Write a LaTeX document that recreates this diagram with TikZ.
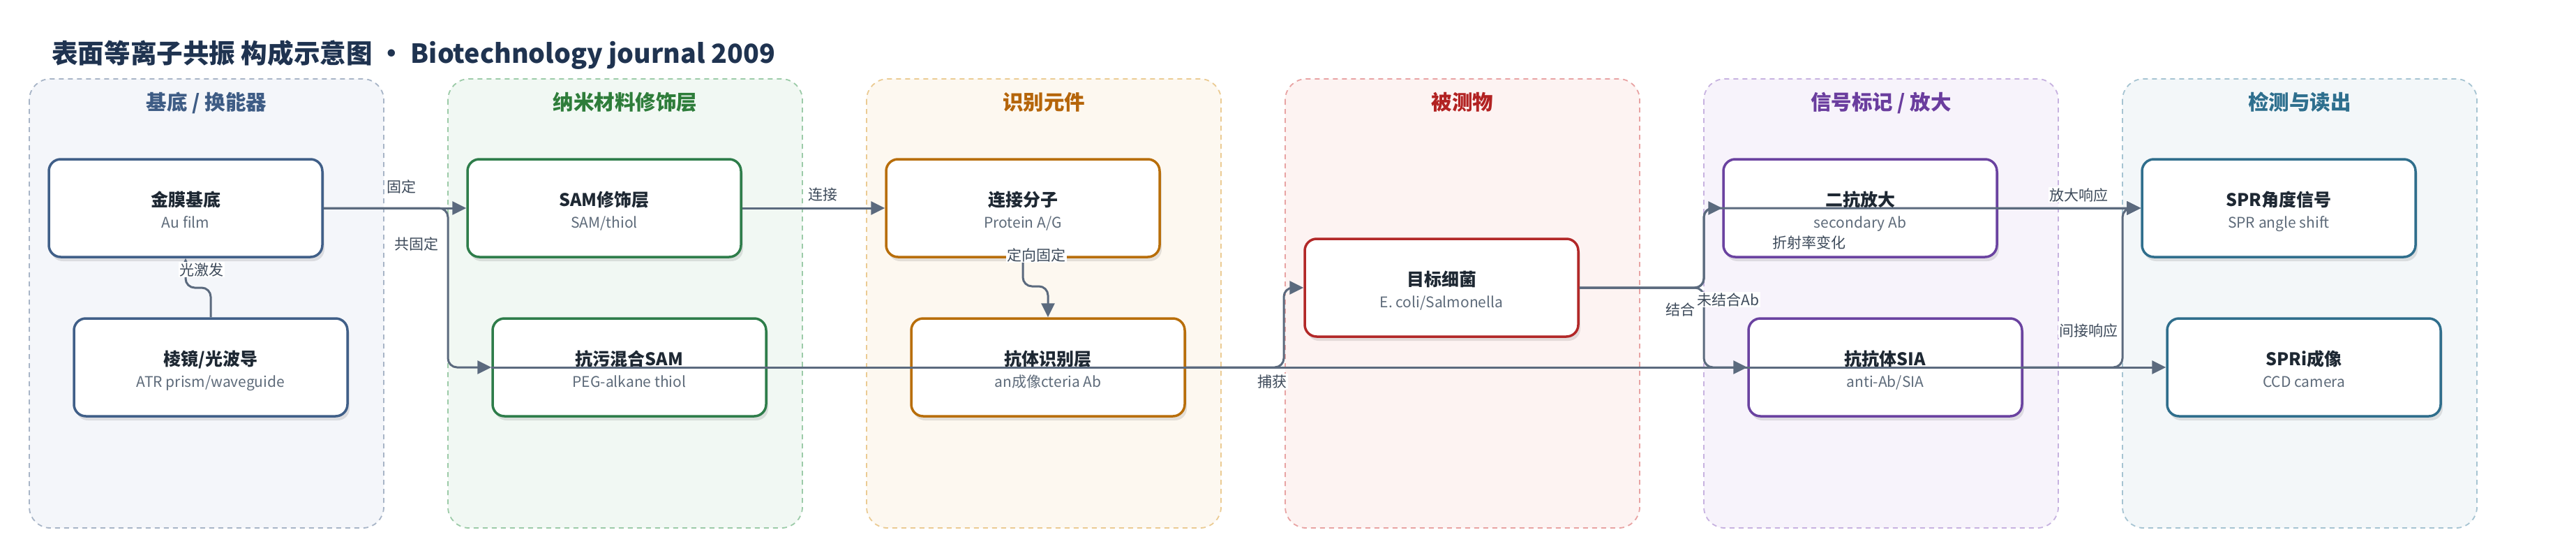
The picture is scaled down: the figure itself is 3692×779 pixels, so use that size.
\documentclass[tikz,border=0pt]{standalone}
\usepackage{fontspec}
\setmainfont{Noto Sans CJK SC}
\usetikzlibrary{arrows.meta,shadows}
\definecolor{titlec}{HTML}{1F3350}
\definecolor{edgec}{HTML}{5B6A7E}
\definecolor{lblc}{HTML}{3D4A5A}
\definecolor{ntc}{HTML}{1E2833}
\definecolor{nsc}{HTML}{5E6B7A}
\definecolor{pAb}{HTML}{405F88}\definecolor{pAt}{HTML}{3E5C85}\definecolor{pAf}{HTML}{F4F6FA}\definecolor{pAd}{HTML}{A8B5C7}
\definecolor{pBb}{HTML}{2E7D4A}\definecolor{pBt}{HTML}{2E7D3A}\definecolor{pBf}{HTML}{F1F8F3}\definecolor{pBd}{HTML}{9CCBA8}
\definecolor{pCb}{HTML}{B86E0A}\definecolor{pCt}{HTML}{B5650A}\definecolor{pCf}{HTML}{FDF8F0}\definecolor{pCd}{HTML}{EBCB93}
\definecolor{pDb}{HTML}{B22828}\definecolor{pDt}{HTML}{B22222}\definecolor{pDf}{HTML}{FDF3F2}\definecolor{pDd}{HTML}{E8A3A3}
\definecolor{pEb}{HTML}{6A42A0}\definecolor{pEt}{HTML}{6A3D9E}\definecolor{pEf}{HTML}{F7F3FB}\definecolor{pEd}{HTML}{C7B2E0}
\definecolor{pFb}{HTML}{2F6E8C}\definecolor{pFt}{HTML}{2E6F8E}\definecolor{pFf}{HTML}{F3F7F9}\definecolor{pFd}{HTML}{A6C4D2}
\tikzset{
  panelbox/.style={rounded corners=30pt, line width=1.8pt, dash pattern=on 7pt off 6pt},
  ptitle/.style={anchor=base, inner sep=0pt, font=\fontsize{29.5pt}{34pt}\selectfont\bfseries},
  nodebox/.style={draw, fill=white, rounded corners=17pt, line width=3.5pt,
    minimum width=392pt, minimum height=140pt, inner sep=0pt,
    drop shadow={shadow xshift=3pt, shadow yshift=-6pt, fill=black, opacity=0.10}},
  ntitle/.style={anchor=base, inner sep=0pt, text=ntc, font=\fontsize{25pt}{30pt}\selectfont\bfseries},
  nsub/.style={anchor=base, inner sep=0pt, text=nsc, font=\fontsize{21pt}{25pt}\selectfont},
  edgeline/.style={draw=edgec, line width=3pt, rounded corners=13pt,
    -{Triangle[length=20pt,width=19pt]}},
  elabel/.style={anchor=base, fill=white, inner sep=1.5pt, text=lblc, font=\fontsize{21pt}{25pt}\selectfont},
}
\begin{document}
\begin{tikzpicture}[x=1pt,y=-1pt]
\useasboundingbox (0,0) rectangle (3692,779);
\fill[white] (0,0) rectangle (3692,779);

% title
\node[anchor=base west, inner sep=0pt, text=titlec, font=\fontsize{37.6pt}{44pt}\selectfont\bfseries] (title) at (74,90)
  {表面等离子共振 构成示意图 · Biotechnology journal 2009};

% panels
\draw[panelbox, draw=pAd, fill=pAf] (42,113) rectangle (550,756);
\draw[panelbox, draw=pBd, fill=pBf] (642,113) rectangle (1150,756);
\draw[panelbox, draw=pCd, fill=pCf] (1242,113) rectangle (1750,756);
\draw[panelbox, draw=pDd, fill=pDf] (1842,113) rectangle (2350,756);
\draw[panelbox, draw=pEd, fill=pEf] (2442,113) rectangle (2950,756);
\draw[panelbox, draw=pFd, fill=pFf] (3042,113) rectangle (3550,756);
\node[ptitle, text=pAt] (pa) at (296,157) {基底 / 换能器};
\node[ptitle, text=pBt] (pb) at (896,157) {纳米材料修饰层};
\node[ptitle, text=pCt] (pc) at (1496,157) {识别元件};
\node[ptitle, text=pDt] (pd) at (2096,157) {被测物};
\node[ptitle, text=pEt] (pe) at (2696,157) {信号标记 / 放大};
\node[ptitle, text=pFt] (pf) at (3296,157) {检测与读出};

% nodes
\node[nodebox, draw=pAb] (au) at (266,298) {};
\node[nodebox, draw=pAb] (prism) at (302,526) {};
\node[nodebox, draw=pBb] (sam) at (866,298) {};
\node[nodebox, draw=pBb] (af) at (902,526) {};
\node[nodebox, draw=pCb] (link) at (1466,298) {};
\node[nodebox, draw=pCb] (ab) at (1502,526) {};
\node[nodebox, draw=pDb] (tgt) at (2066,412) {};
\node[nodebox, draw=pEb] (sec) at (2666,298) {};
\node[nodebox, draw=pEb] (sia) at (2702,526) {};
\node[nodebox, draw=pFb] (spr) at (3266,298) {};
\node[nodebox, draw=pFb] (spri) at (3302,526) {};

\node[ntitle] (au-t) at (266,295) {金膜基底};
\node[nsub] (au-s) at (266,326) {Au film};
\node[ntitle] (prism-t) at (302,523) {棱镜/光波导};
\node[nsub] (prism-s) at (302,554) {ATR prism/waveguide};
\node[ntitle] (sam-t) at (866,295) {SAM修饰层};
\node[nsub] (sam-s) at (866,326) {SAM/thiol};
\node[ntitle] (af-t) at (902,523) {抗污混合SAM};
\node[nsub] (af-s) at (902,554) {PEG-alkane thiol};
\node[ntitle] (link-t) at (1466,295) {连接分子};
\node[nsub] (link-s) at (1466,326) {Protein A/G};
\node[ntitle] (ab-t) at (1502,523) {抗体识别层};
\node[nsub] (ab-s) at (1502,554) {an成像cteria Ab};
\node[ntitle] (tgt-t) at (2066,409) {目标细菌};
\node[nsub] (tgt-s) at (2066,440) {E. coli/Salmonella};
\node[ntitle] (sec-t) at (2666,295) {二抗放大};
\node[nsub] (sec-s) at (2666,326) {secondary Ab};
\node[ntitle] (sia-t) at (2702,523) {抗抗体SIA};
\node[nsub] (sia-s) at (2702,554) {anti-Ab/SIA};
\node[ntitle] (spr-t) at (3266,295) {SPR角度信号};
\node[nsub] (spr-s) at (3266,326) {SPR angle shift};
\node[ntitle] (spri-t) at (3302,523) {SPRi成像};
\node[nsub] (spri-s) at (3302,554) {CCD camera};

% connectors
\coordinate (b1) at (642,298);
\coordinate (b2) at (642,526);
\coordinate (b3) at (302,412);
\coordinate (b4) at (266,412);
\coordinate (b5) at (1466,410);
\coordinate (b6) at (1502,410);
\coordinate (b7) at (1840,526);
\coordinate (b8) at (1840,412);
\coordinate (b9) at (2442,412);
\coordinate (b10) at (2442,298);
\coordinate (b11) at (2442,526);
\coordinate (b12) at (3042,526);
\coordinate (b13) at (3042,298);

\draw[edgeline] (au.east) -- (sam.west);
\draw[edgeline] (au.east) -- (b1) -- (b2) -- (af.west);
\draw[edgeline] (prism.north) -- (b3) -- (b4) -- (au.south);
\draw[edgeline] (sam.east) -- (link.west);
\draw[edgeline] (link.south) -- (b5) -- (b6) -- (ab.north);
\draw[edgeline] (af.west) -- (spri.west);
\draw[edgeline] (ab.east) -- (b7) -- (b8) -- (tgt.west);
\draw[edgeline] (tgt.east) -- (b9) -- (b10) -- (sec.west);
\draw[edgeline] (tgt.east) -- (b9) -- (b11) -- (sia.west);
\draw[edgeline] (tgt.east) -- (b9) -- (b10) -- (spr.west);
\draw[edgeline] (sec.east) -- (spr.west);
\draw[edgeline] (sia.east) -- (b12) -- (b13) -- (spr.west);

% connector labels
\node[elabel] (l1) at (575,275) {固定};
\node[elabel] (l2) at (597,357) {共固定};
\node[elabel] (l3) at (289,394) {光激发};
\node[elabel] (l4) at (1179,286) {连接};
\node[elabel] (l5) at (1485,373) {定向固定};
\node[elabel] (l6) at (1823,554) {捕获};
\node[elabel] (l7) at (2408,451) {结合};
\node[elabel] (l8) at (2477,437) {未结合Ab};
\node[elabel] (l9) at (2593,355) {折射率变化};
\node[elabel] (l10) at (2979,287) {放大响应};
\node[elabel] (l11) at (2993,481) {间接响应};
\end{tikzpicture}
\end{document}
